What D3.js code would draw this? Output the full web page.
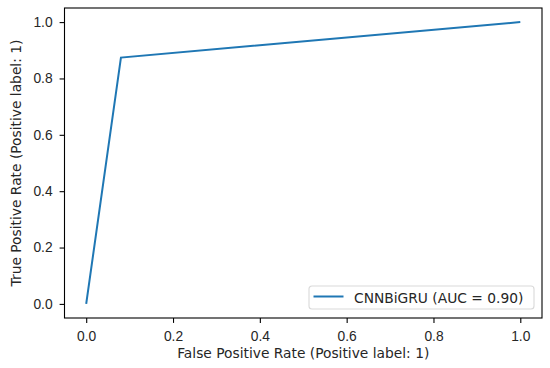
<!DOCTYPE html>
<html>
<head>
<meta charset="utf-8">
<script src="https://cdn.jsdelivr.net/npm/d3@7"></script>
<style>
  body { margin: 0; background: #fff; }
  svg { display: block; font-family: "DejaVu Sans", sans-serif; }
  .axis text { font-size: 13.8px; fill: #262626; }
  .axis path, .axis line { stroke: #000; stroke-width: 1.1; }
</style>
</head>
<body>
<svg width="550" height="368"></svg>
<script>
// ROC curve points
const fpr = [0, 0.08, 1];
const tpr = [0, 0.874, 1];
const ticks = [0, 0.2, 0.4, 0.6, 0.8, 1.0];
const seriesName = 'CNNBiGRU (AUC = 0.90)';

const svg = d3.select('svg');
const margin = {top: 8, right: 8, bottom: 50, left: 64.5};
const width = 550 - margin.left - margin.right,
      height = 368 - margin.top - margin.bottom;

const x = d3.scaleLinear().domain([-0.05, 1.05]).range([0, width]);
const y = d3.scaleLinear().domain([-0.05, 1.05]).range([height, 0]);

const g = svg.append('g')
  .attr('transform', `translate(${margin.left},${margin.top})`);

g.append('g')
  .attr('class', 'axis')
  .attr('transform', `translate(0,${height})`)
  .call(d3.axisBottom(x).tickValues(ticks).tickFormat(d3.format('.1f')).tickSize(4.9).tickPadding(8.5))
  .call(s => s.select('.domain').remove());

g.append('g')
  .attr('class', 'axis')
  .call(d3.axisLeft(y).tickValues(ticks).tickFormat(d3.format('.1f')).tickSize(4.9).tickPadding(7))
  .call(s => s.select('.domain').remove());

// frame
g.append('rect')
  .attr('width', width).attr('height', height)
  .attr('fill', 'none').attr('stroke', '#000').attr('stroke-width', 1.1);

const line = d3.line().x((d, i) => x(fpr[i])).y((d, i) => y(tpr[i]));
g.append('path')
  .datum(fpr)
  .attr('d', line)
  .attr('fill', 'none')
  .attr('stroke', '#1f77b4')
  .attr('stroke-width', 2);

// axis labels
svg.append('text')
  .attr('x', margin.left + x(0.5))
  .attr('y', 358)
  .attr('text-anchor', 'middle')
  .attr('font-size', 13.8).attr('fill', '#262626')
  .text('False Positive Rate (Positive label: 1)');

svg.append('text')
  .attr('transform', `translate(21,${margin.top + height / 2}) rotate(-90)`)
  .attr('text-anchor', 'middle')
  .attr('font-size', 13.8).attr('fill', '#262626')
  .text('True Positive Rate (Positive label: 1)');

// legend
const lg = g.append('g').attr('transform', `translate(${309 - margin.left},${286 - margin.top})`);
lg.append('rect')
  .attr('width', 225).attr('height', 23).attr('rx', 3)
  .attr('fill', '#fff').attr('fill-opacity', 0.8)
  .attr('stroke', '#d9d9d9').attr('stroke-width', 1.1);
lg.append('line')
  .attr('x1', 4.5).attr('x2', 34.5).attr('y1', 10.5).attr('y2', 10.5)
  .attr('stroke', '#1f77b4').attr('stroke-width', 2);
lg.append('text')
  .attr('x', 45).attr('y', 16.5)
  .attr('font-size', 13.8).attr('fill', '#262626')
  .text(seriesName);
</script>
</body>
</html>
